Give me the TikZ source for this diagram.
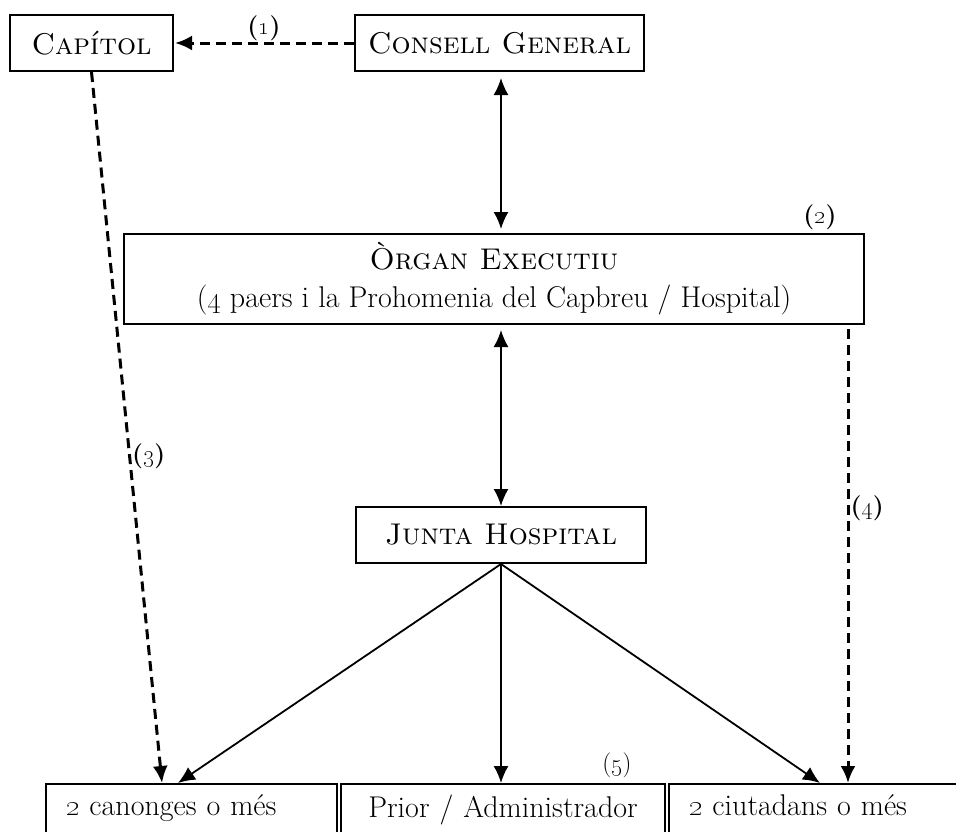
\documentclass[tikz,border=0pt]{standalone}
\usepackage{tikz}
\usetikzlibrary{arrows.meta,positioning,calc}
\tikzstyle{box} = [draw, rectangle, line width=2pt,
    minimum height=56pt, inner sep=0pt]
\tikzstyle{lowbox} = [draw, rectangle, line width=2pt, anchor=north,
    inner xsep=20pt, inner ysep=11pt, text depth=20pt, align=left]
\tikzstyle{tag} = [font=\fontsize{25}{30}\selectfont, inner sep=1pt]
\tikzstyle{link} = [{Latex[length=17pt,width=15pt]}-{Latex[length=17pt,width=15pt]}, line width=1.8pt]
\tikzstyle{down} = [-{Latex[length=17pt,width=15pt]}, line width=1.8pt]
\tikzstyle{dlink} = [-{Latex[length=17pt,width=15pt]}, line width=3pt,
    dash pattern=on 10pt off 6pt]

\begin{document}
\begin{tikzpicture}[x=1pt, y=-1pt, font=\fontsize{30}{38}\selectfont]
    \useasboundingbox (0,0) rectangle (956,831);
    \node (cap) [box, minimum width=163pt] at (91.5,43) {\textsc{Capítol}};
    \node (cons) [box, minimum width=289pt, right of=cap, node distance=408pt] {\textsc{Consell General}};
    \node (organ) [box, minimum width=740pt, minimum height=90pt, align=center] at (494,279)
        {\textsc{Òrgan Executiu}\\(\oldstylenums{4} paers i la Prohomenia del Capbreu / Hospital)};
    \node (junta) [box, minimum width=290pt, below of=organ, node distance=256pt, xshift=7pt] {\textsc{Junta Hospital}};

    % bottom row, cut by the page edge
    \node (canon) [lowbox, text width=251pt] at (191.5,783) {\oldstylenums{2} canonges o més};
    \node (prior) [lowbox, text width=284pt, align=center] at (503,783) {Prior / Administrador};
    \node (ciut) [lowbox, text width=262pt] at (820,783) {\oldstylenums{2} ciutadans o més};

    \draw [link, shorten <=6pt, shorten >=4pt] (junta.north |- cons.south) -- (junta.north |- organ.north);
    \draw [link, shorten <=5pt] (junta.north |- organ.south) -- (junta.north);

    \draw [dlink, shorten >=1pt] (cons.west) -- node [tag, above] {\textbf{(\oldstylenums{1})}} (cap.east);
    \draw [dlink] (cap.south) -- node [tag, pos=0.54, right] {\textbf{(\oldstylenums{3})}} ($(canon.north)+(-29.5,0)$);
    \coordinate (d4) at ($(organ.south east)+(-17,0)$);
    \draw [dlink, shorten <=4pt] (d4) -- node [tag, pos=0.4, right] {\textbf{(\oldstylenums{4})}} (d4 |- ciut.north);

    \draw [down] (junta.south) -- ($(canon.north)+(-13.5,0)$);
    \draw [down] (junta.south) -- (junta.south |- prior.north);
    \draw [down] (junta.south) -- (ciut.north);

    \node (n2) [tag] at ($(organ.north east)+(-45,-16)$) {\textbf{(\oldstylenums{2})}};
    \node (n5) [tag] at ($(prior.north east)+(-49,-18)$) {(\oldstylenums{5})};
\end{tikzpicture}
\end{document}
